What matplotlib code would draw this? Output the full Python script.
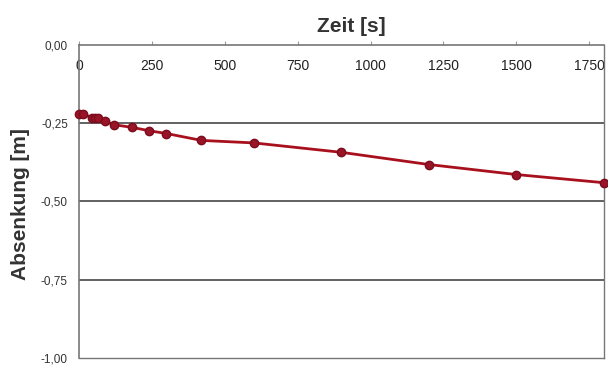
import matplotlib.pyplot as plt
from matplotlib.ticker import FuncFormatter

plt.rcParams['font.family'] = ['Liberation Sans', 'DejaVu Sans']

# Absenkung über die Zeit
zeit = [0, 15, 45, 55, 65, 90, 120, 180, 240, 300, 420, 600, 900, 1200, 1500, 1800]
absenkung = [-0.222, -0.222, -0.232, -0.232, -0.232, -0.244, -0.255, -0.263, -0.274,
             -0.283, -0.305, -0.313, -0.343, -0.382, -0.414, -0.440]

x_ticks = [0, 250, 500, 750, 1000, 1250, 1500, 1750]
y_ticks = [0.0, -0.25, -0.5, -0.75, -1.0]

fig = plt.figure(figsize=(6.08, 3.68), dpi=100)
ax = fig.add_axes([0.130, 0.027, 0.863, 0.851])

ax.plot(zeit, absenkung, color='#a8101e', linewidth=2, marker='o', markersize=6,
        markerfacecolor='#9a1428', markeredgecolor='#7a0c1c', zorder=3, clip_on=False)

ax.set_xlim(0, 1800)
ax.set_ylim(-1.0, 0.0)

# x-Achse oben, Beschriftung unterhalb der Achslinie
ax.xaxis.tick_top()
ax.set_xticks(x_ticks)
ax.tick_params(axis='x', direction='out', length=3, width=0.8, color='#999999',
               pad=-23, labelsize=10, labelcolor='#222222')
ax.set_yticks(y_ticks)
ax.yaxis.set_major_formatter(FuncFormatter(lambda v, p: f'{v:.2f}'.replace('.', ',')))
ax.tick_params(axis='y', length=0, pad=8, labelsize=8.5, labelcolor='#333333')

for y in y_ticks[1:-1]:
    ax.axhline(y, color='#555555', linewidth=1.3, zorder=1)

for s in ax.spines.values():
    s.set_color('#777777')
    s.set_linewidth(1.0)
ax.spines['top'].set_linewidth(1.2)
ax.spines['left'].set_linewidth(1.2)

fig.text(0.577, 0.913, 'Zeit [s]', ha='center', va='baseline', fontsize=15,
         fontweight='bold', color='#333333')
fig.text(0.033, 0.446, 'Absenkung [m]', ha='center', va='center', rotation=90,
         fontsize=15, fontweight='bold', color='#333333')

fig.savefig('out.png', dpi=100)
